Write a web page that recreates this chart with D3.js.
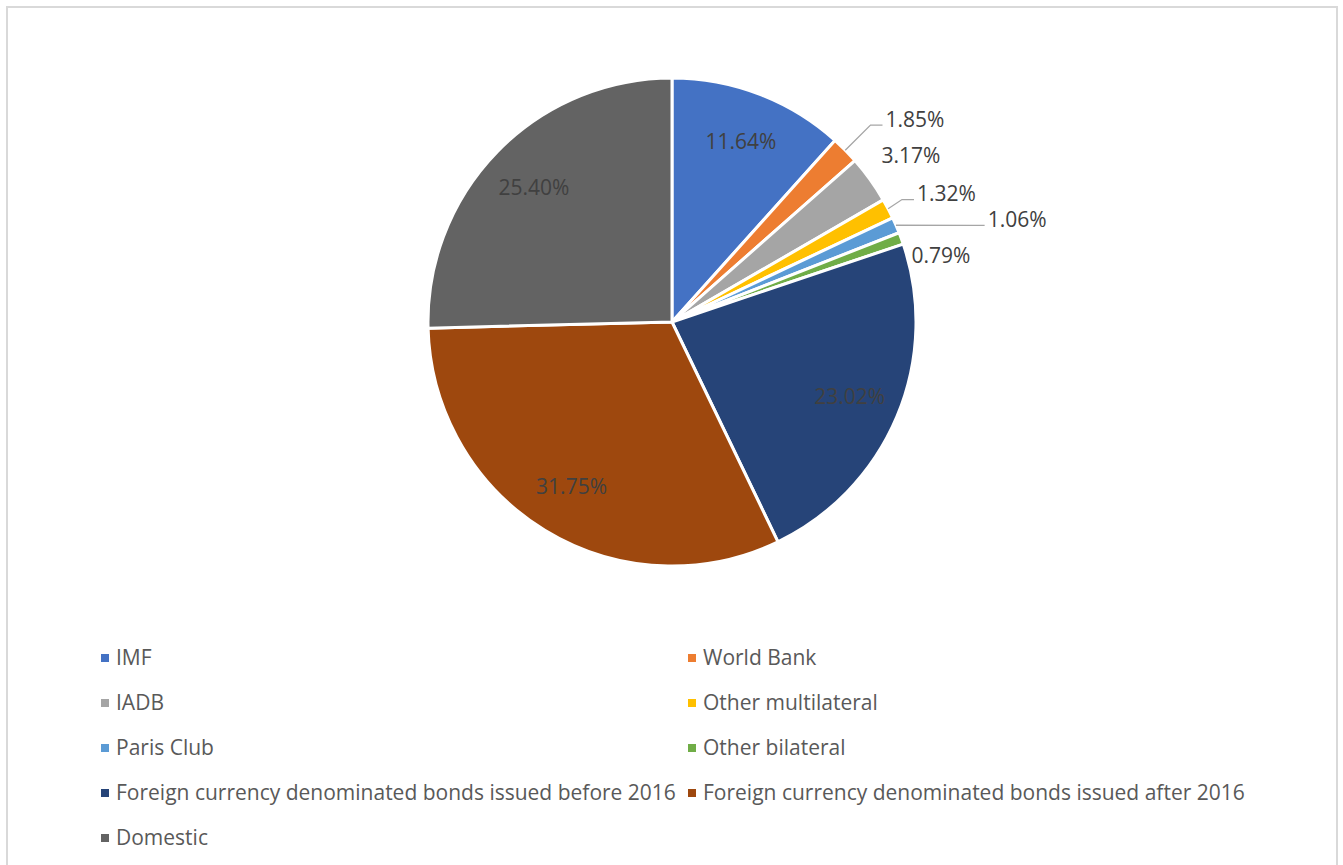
<!DOCTYPE html>
<html>
<head>
<meta charset="utf-8">
<script src="https://cdn.jsdelivr.net/npm/d3@7"></script>
<style>
  body { margin: 0; background: #fff; }
  svg text { font-family: "Open Sans", "Noto Sans", sans-serif; }
</style>
</head>
<body>
<svg class="chart"></svg>
<script>
// categories and their shares (%)
const categories = [
  "IMF", "World Bank", "IADB", "Other multilateral", "Paris Club", "Other bilateral",
  "Foreign currency denominated bonds issued before 2016",
  "Foreign currency denominated bonds issued after 2016",
  "Domestic"
];
const shares = [11.64, 1.85, 3.17, 1.32, 1.06, 0.79, 23.02, 31.75, 25.40];
const colors = ["#4472C4", "#ED7D31", "#A5A5A5", "#FFC000", "#5B9BD5", "#70AD47", "#264478", "#9E480E", "#636363"];

// which labels sit outside the pie: [angle in degrees, distance as share of radius, leader?]
const outside = {
  1: [50.2, 1.296, true],
  2: [55.2, 1.193, false],
  3: [65.0, 1.241, true],
  4: [73.5, 1.475, true],
  5: [76.2, 1.135, false]
};

const width = 1343, height = 865;
const cx = 672, cy = 322, radius = 244;
const fontSize = "21px";

const svg = d3.select(".chart")
    .attr("width", width)
    .attr("height", height);

// chart frame
svg.append("rect")
    .attr("x", 7).attr("y", 7)
    .attr("width", 1330).attr("height", 900)
    .attr("fill", "none")
    .attr("stroke", "#d9d9d9")
    .attr("stroke-width", 2);

const pie = d3.pie().sort(null).value(d => d)(shares);
const arc = d3.arc().innerRadius(0).outerRadius(radius);
const labelArc = d3.arc().innerRadius(radius * 0.79).outerRadius(radius * 0.79);

const g = svg.append("g")
    .attr("transform", "translate(" + cx + "," + cy + ")");

g.selectAll(".slice")
    .data(pie)
  .enter().append("path")
    .attr("class", "slice")
    .attr("d", arc)
    .attr("fill", (d, i) => colors[i])
    .attr("stroke", "#fff")
    .attr("stroke-width", 3)
    .attr("stroke-linejoin", "round");

const fmt = d => d.toFixed(2) + "%";

// labels
pie.forEach((d, i) => {
  let x, y;
  if (outside[i]) {
    const a = outside[i][0] * Math.PI / 180, r = radius * outside[i][1];
    x = Math.sin(a) * r;
    y = -Math.cos(a) * r;
  } else {
    [x, y] = labelArc.centroid(d);
  }
  const t = g.append("text")
      .attr("x", x)
      .attr("y", y)
      .attr("dy", "0.35em")
      .attr("text-anchor", "middle")
      .attr("fill", "#404040")
      .style("font-size", fontSize)
      .text(fmt(d.value));

  if (outside[i] && outside[i][2]) {
    const w = t.node().getComputedTextLength();
    const mid = (d.startAngle + d.endAngle) / 2;
    const sx = Math.sin(mid) * radius, sy = -Math.cos(mid) * radius;
    const ex = x - w / 2 - 3, ey = y + 5.5;
    g.append("polyline")
        .attr("points", [[sx, sy], [ex - 12, ey], [ex, ey]].map(p => p.join(",")).join(" "))
        .attr("fill", "none")
        .attr("stroke", "#a6a6a6")
        .attr("stroke-width", 1.3);
  }
});

// legend, two columns
const legend = svg.selectAll(".legend")
    .data(categories)
  .enter().append("g")
    .attr("class", "legend")
    .attr("transform", (d, i) => "translate(" + (i % 2 ? 688 : 101) + "," + (658 + Math.floor(i / 2) * 45) + ")");

legend.append("rect")
    .attr("x", 0).attr("y", -4)
    .attr("width", 8).attr("height", 8)
    .attr("fill", (d, i) => colors[i]);

legend.append("text")
    .attr("x", 15)
    .attr("dy", "0.35em")
    .attr("fill", "#595959")
    .style("font-size", fontSize)
    .text(d => d);
</script>
</body>
</html>
